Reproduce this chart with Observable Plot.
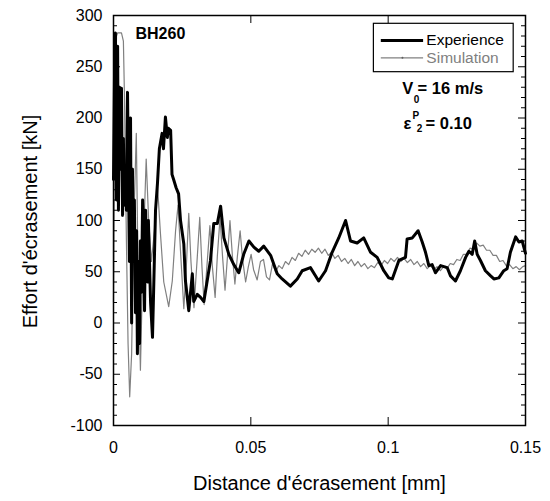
<!DOCTYPE html>
<html><head><meta charset="utf-8">
<script src="https://cdn.jsdelivr.net/npm/d3@7"></script>
<script src="https://cdn.jsdelivr.net/npm/@observablehq/plot@0.6"></script>
<style>body{margin:0;background:#fff;} #chart{width:550px;height:501px;}</style>
</head><body><div id="chart"></div>
<script>
// Experience: [distance (mm), force (kN)]
const experience = [[0,140],[0.0004,250],[0.0007,283],[0.0011,120],[0.0015,270],[0.0018,110],[0.0022,230],[0.0025,150],[0.0029,229],[0.0033,105],[0.0036,180],[0.0040,115],[0.0044,150],[0.0047,110],[0.0051,225],[0.0055,130],[0.0058,60],[0.0062,200],[0.0066,0],[0.0069,150],[0.0073,60],[0.0076,120],[0.0080,10],[0.0084,90],[0.0087,-30],[0.0091,60],[0.0095,-20],[0.0098,80],[0.0102,30],[0.0106,120],[0.0109,100],[0.0113,12],[0.0117,110],[0.0120,70],[0.0124,40],[0.0127,100],[0.0135,20],[0.0142,-14],[0.0146,30],[0.0153,110],[0.0160,136],[0.0167,170],[0.0177,185],[0.0182,170],[0.0189,201],[0.0196,181],[0.0200,190],[0.0208,188],[0.0213,145],[0.0220,139],[0.0228,132],[0.0237,126],[0.0244,100],[0.0256,77],[0.0262,41],[0.0274,12],[0.0287,48],[0.0292,21],[0.0305,28],[0.0317,25],[0.0329,21],[0.0341,41],[0.0353,61],[0.0365,97],[0.0378,97],[0.0390,114],[0.0402,83],[0.0420,67],[0.0438,57],[0.0456,49],[0.0474,67],[0.0493,80],[0.0511,74],[0.0529,70],[0.0547,75],[0.0572,66],[0.0596,48],[0.0614,43],[0.0644,36],[0.0669,43],[0.0687,51],[0.0717,54],[0.0747,41],[0.0772,51],[0.0796,69],[0.0820,83],[0.0845,100],[0.0863,80],[0.0887,78],[0.0911,83],[0.0936,69],[0.0960,64],[0.0984,51],[0.1002,44],[0.1015,43],[0.1039,61],[0.1063,64],[0.1069,82],[0.1088,83],[0.1109,90],[0.1124,79],[0.1136,69],[0.1148,56],[0.1160,57],[0.1172,49],[0.1191,56],[0.1215,54],[0.1227,46],[0.1245,41],[0.1263,51],[0.1282,64],[0.1294,70],[0.1306,67],[0.1315,80],[0.1324,67],[0.1336,61],[0.1354,51],[0.1373,46],[0.1385,43],[0.1403,44],[0.1421,51],[0.1433,53],[0.1445,69],[0.1464,84],[0.1476,79],[0.1488,80],[0.1500,68]];

// Simulation: [distance (mm), force (kN)]
const simulation = [[0,20],[0.0005,200],[0.0011,280],[0.0015,283],[0.0029,283],[0.0036,275],[0.0040,220],[0.0047,80],[0.0053,-20],[0.0059,-72],[0.0066,-30],[0.0073,90],[0.0083,185],[0.0089,60],[0.0098,-46],[0.0107,60],[0.0119,160],[0.0128,100],[0.0138,60],[0.0149,90],[0.0160,135],[0.0171,87],[0.0183,40],[0.0201,16],[0.0214,41],[0.0226,90],[0.0235,115],[0.0244,70],[0.0256,14],[0.0266,60],[0.0274,107],[0.0282,60],[0.0293,15],[0.0304,60],[0.0314,103],[0.0322,55],[0.0330,18],[0.0340,55],[0.0351,95],[0.0360,55],[0.0370,25],[0.0378,65],[0.0388,103],[0.0397,65],[0.0406,32],[0.0415,65],[0.0424,100],[0.0433,65],[0.0442,38],[0.0451,65],[0.0461,90],[0.0470,62],[0.0481,40],[0.0491,55],[0.0501,67],[0.0510,52],[0.0523,42],[0.0535,60],[0.0546,62],[0.0557,45],[0.0568,42],[0.0579,58],[0.0590,50],[0.0602,56],[0.0614,53],[0.0626,60],[0.0638,57],[0.0650,64],[0.0662,61],[0.0674,68],[0.0686,65],[0.0698,71],[0.0710,67],[0.0722,72],[0.0734,69],[0.0746,73],[0.0758,68],[0.0770,72],[0.0782,66],[0.0794,69],[0.0806,63],[0.0818,66],[0.0830,60],[0.0842,63],[0.0854,58],[0.0866,62],[0.0878,56],[0.0890,60],[0.0902,55],[0.0914,58],[0.0926,53],[0.0938,56],[0.0950,54],[0.0962,59],[0.0974,56],[0.0986,61],[0.0998,58],[0.1010,63],[0.1022,60],[0.1034,64],[0.1046,60],[0.1058,63],[0.1070,59],[0.1082,62],[0.1094,57],[0.1106,60],[0.1118,55],[0.1130,58],[0.1142,53],[0.1154,56],[0.1166,52],[0.1178,55],[0.1190,51],[0.1202,55],[0.1214,53],[0.1226,58],[0.1238,57],[0.1250,62],[0.1262,61],[0.1274,67],[0.1286,67],[0.1298,73],[0.1310,72],[0.1322,78],[0.1334,75],[0.1346,76],[0.1358,71],[0.1370,71],[0.1382,66],[0.1394,66],[0.1406,60],[0.1418,61],[0.1430,56],[0.1442,57],[0.1454,53],[0.1466,55],[0.1478,52],[0.1490,55],[0.1500,56]];

const xTicks = [0, 0.05, 0.1, 0.15];
const xTickLabels = ["0", "0.05", "0.1", "0.15"];
const xInnerTicks = [0.05, 0.1];
const yTicks = [-100, -50, 0, 50, 100, 150, 200, 250, 300];
const yMinorTicks = d3.range(-100, 301, 10).filter(v => v % 50 !== 0);
const seriesNames = ["Experience", "Simulation"];
const xTitle = "Distance d'écrasement [mm]";
const yTitle = "Effort d'écrasement [kN]";

const FONT = "'Liberation Sans', Arial, Helvetica, sans-serif";
const W = 550, H = 501, ML = 113, MR = 25, MT = 15, MB = 76;
const FW = W - ML - MR, FH = H - MT - MB;

// Legend / annotation anchors (in data units)
const legendBox = [{x1: 0.0948, x2: 0.1457, y1: 244.7, y2: 291.9}];
const legendLines = [
  {x1: 0.0975, x2: 0.1129, y: 275.6, name: seriesNames[0], stroke: "#000", sw: 3},
  {x1: 0.0975, x2: 0.1129, y: 258.7, name: seriesNames[1], stroke: "#808080", sw: 1.3}
];

const chart = Plot.plot({
  width: W, height: H,
  marginLeft: ML, marginRight: MR, marginTop: MT, marginBottom: MB,
  style: {fontFamily: FONT, background: "#fff", color: "#000"},
  x: {domain: [0, 0.15], label: null},
  y: {domain: [-100, 300], label: null},
  marks: [
    Plot.line(simulation, {x: d => d[0], y: d => d[1], stroke: "#808080", strokeWidth: 1.2}),
    Plot.line(experience, {x: d => d[0], y: d => d[1], stroke: "#000", strokeWidth: 3, strokeLinejoin: "round"}),
    // inward ticks
    Plot.tickY(yMinorTicks, {y: d => d, insetRight: FW - 4, stroke: "#000", strokeWidth: 1}),
    Plot.tickY(yTicks, {y: d => d, insetRight: FW - 7, stroke: "#000", strokeWidth: 1}),
    Plot.tickY(yMinorTicks, {y: d => d, insetLeft: FW - 4, stroke: "#000", strokeWidth: 1}),
    Plot.tickY(yTicks, {y: d => d, insetLeft: FW - 7, stroke: "#000", strokeWidth: 1}),
    Plot.tickX(xInnerTicks, {x: d => d, insetBottom: FH - 8, stroke: "#000", strokeWidth: 1}),
    Plot.tickX(xInnerTicks, {x: d => d, insetTop: FH - 8, stroke: "#000", strokeWidth: 1}),
    Plot.frame({stroke: "#000", strokeWidth: 1.5}),
    Plot.axisX({ticks: xTicks, tickSize: 0, tickPadding: 16, fontSize: 16, tickFormat: d => xTickLabels[xTicks.indexOf(d)], label: null}),
    Plot.axisY({ticks: yTicks, tickSize: 0, tickPadding: 11, fontSize: 16, tickFormat: d => String(d), label: null}),
    Plot.text([xTitle], {frameAnchor: "bottom", dy: 58, textAnchor: "middle", lineAnchor: "middle", fontSize: 20, fill: "#000"}),
    Plot.text([yTitle], {frameAnchor: "left", dx: -83, dy: 1, rotate: -90, textAnchor: "middle", lineAnchor: "middle", fontSize: 20, fill: "#000"}),
    // BH260 label
    Plot.text(["BH260"], {x: 0.008, y: 282, textAnchor: "start", fontSize: 16, fontWeight: "bold", fill: "#000"}),
    // legend
    Plot.rect(legendBox, {x1: "x1", x2: "x2", y1: "y1", y2: "y2", fill: "#fff", stroke: "#000", strokeWidth: 1.2}),
    Plot.ruleY(legendLines, {x1: "x1", x2: "x2", y: "y", stroke: "stroke", strokeWidth: "sw"}),
    Plot.dot([legendLines[1]], {x: d => (d.x1 + d.x2) / 2, y: "y", r: 1, fill: "#606060"}),
    Plot.text(legendLines, {x: 0.1139, y: "y", text: "name", textAnchor: "start", fontSize: 15.5, fill: "stroke"}),
    // V0 = 16 m/s
    Plot.text(["V"], {x: 0.1051, y: 228.8, textAnchor: "start", fontSize: 16.5, fontWeight: "bold", fill: "#000"}),
    Plot.text(["0"], {x: 0.1093, y: 218, textAnchor: "start", fontSize: 10, fontWeight: "bold", fill: "#000"}),
    Plot.text(["= 16 m/s"], {x: 0.1107, y: 228.8, textAnchor: "start", fontSize: 16.5, fontWeight: "bold", fill: "#000"}),
    // eps^P_2 = 0.10
    Plot.text(["ε"], {x: 0.1056, y: 194.9, textAnchor: "start", fontSize: 16.5, fontWeight: "bold", fill: "#000"}),
    Plot.text(["P"], {x: 0.1089, y: 202.4, textAnchor: "start", fontSize: 10, fontWeight: "bold", fill: "#000"}),
    Plot.text(["2"], {x: 0.1104, y: 189.3, textAnchor: "start", fontSize: 10, fontWeight: "bold", fill: "#000"}),
    Plot.text(["= 0.10"], {x: 0.1136, y: 194.9, textAnchor: "start", fontSize: 16.5, fontWeight: "bold", fill: "#000"})
  ]
});
document.getElementById("chart").appendChild(chart);
</script>
</body></html>
